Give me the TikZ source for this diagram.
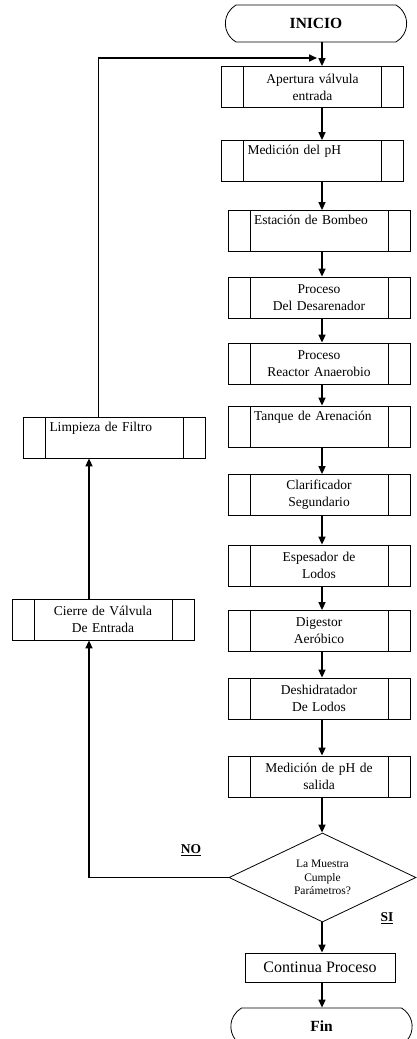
\documentclass[tikz,border=0pt]{standalone}
\usepackage{fontspec}
\setmainfont{Liberation Serif}
\usetikzlibrary{arrows.meta, shapes.geometric, shapes.misc}

\begin{document}
\begin{tikzpicture}[
    x=1pt, y=-1pt,
    >={Triangle[length=8pt,width=7pt]},
    font=\fontsize{13.5}{17}\selectfont,
    proc/.style={draw, line width=0.8pt, minimum width=182pt, minimum height=41pt,
        text width=130pt, inner xsep=26pt, inner ysep=3pt, align=center,
        path picture={\draw[line width=0.8pt]
            ([xshift=22pt]path picture bounding box.north west) -- ([xshift=22pt]path picture bounding box.south west)
            ([xshift=-22pt]path picture bounding box.north east) -- ([xshift=-22pt]path picture bounding box.south east);}},
    term/.style={draw, line width=0.8pt, rounded rectangle, rounded rectangle arc length=120,
        minimum width=188pt, minimum height=37pt, font=\fontsize{15.5}{18}\selectfont\bfseries},
    dec/.style={draw, line width=0.8pt, diamond, aspect=2.1, minimum width=187pt, minimum height=89pt,
        inner sep=0pt, align=center, font=\fontsize{11.5}{13.5}\selectfont},
    plainbox/.style={draw, line width=0.8pt, minimum width=150pt, minimum height=29pt,
        font=\fontsize{16}{18}\selectfont},
    flow/.style={->, line width=1.6pt},
    tag/.style={font=\fontsize{13.5}{15}\selectfont\bfseries}
]
    \useasboundingbox (0,0) rectangle (416,1039);

    % Main column
    \node[term] (inicio) at (316, 23.5) {INICIO};
    \node[proc] (b1) at (312.5, 87) {Apertura válvula\\entrada};
    \node[proc, align=left] (b2) at (312.5, 161) {Medición del pH\\\strut};
    \node[proc, align=left] (b3) at (319, 231) {Estación de Bombeo\\\strut};
    \node[proc] (b4) at (319, 297.5) {Proceso\\Del Desarenador};
    \node[proc] (b5) at (319, 363.5) {Proceso\\Reactor Anaerobio};
    \node[proc, align=left] (b6) at (319, 426.5) {Tanque de Arenación\\\strut};
    \node[proc] (b7) at (319, 495) {Clarificador\\Segundario};
    \node[proc] (b8) at (319, 565.5) {Espesador de\\Lodos};
    \node[proc] (b9) at (319, 631) {Digestor\\Aeróbico};
    \node[proc] (b10) at (319, 698.5) {Deshidratador\\De Lodos};
    \node[proc] (b11) at (319, 776.5) {Medición de pH de\\salida};
    \node[dec] (dec) at (322.5, 877.5) {La Muestra\\Cumple\\Parámetros?};
    \node[plainbox] (cont) at (320, 967.5) {Continua Proceso};
    \node[term] (fin) at (321.5, 1026.5) {Fin};

    % Return column
    \node[proc, align=left] (limp) at (114.5, 437.5) {Limpieza de Filtro\\\strut};
    \node[proc] (cierre) at (103, 619.5) {Cierre de Válvula\\De Entrada};

    % Labels
    \node[tag] (no) at (191, 850) {\underline{NO}};
    \node[tag] (si) at (387, 918) {\underline{SI}};

    % Main flow
    \coordinate (axis) at (322, 0);
    \draw[flow] (inicio.south -| axis) -- (b1.north -| axis);
    \draw[flow] (b1.south -| axis) -- (b2.north -| axis);
    \draw[flow] (b2.south -| axis) -- (b3.north -| axis);
    \draw[flow] (b3.south -| axis) -- (b4.north -| axis);
    \draw[flow] (b4.south -| axis) -- (b5.north -| axis);
    \draw[flow] (b5.south -| axis) -- (b6.north -| axis);
    \draw[flow] (b6.south -| axis) -- (b7.north -| axis);
    \draw[flow] (b7.south -| axis) -- (b8.north -| axis);
    \draw[flow] (b8.south -| axis) -- (b9.north -| axis);
    \draw[flow] (b9.south -| axis) -- (b10.north -| axis);
    \draw[flow] (b10.south -| axis) -- (b11.north -| axis);
    \draw[flow] (b11.south -| axis) -- (dec.north -| axis);
    \draw[flow] (dec.south -| axis) -- (cont.north -| axis);
    \draw[flow] (cont.south -| axis) -- (fin.north -| axis);

    % NO branch back to the start
    \coordinate (back) at (317, 58);
    \draw[flow] (dec.west) -| ([xshift=-14pt]cierre.south);
    \draw[flow] ([xshift=-14pt]cierre.north) -- ([xshift=-14pt]cierre.north |- limp.south);
    \draw[flow] ([xshift=-16pt]limp.north) |- (back);

\end{tikzpicture}
\end{document}
